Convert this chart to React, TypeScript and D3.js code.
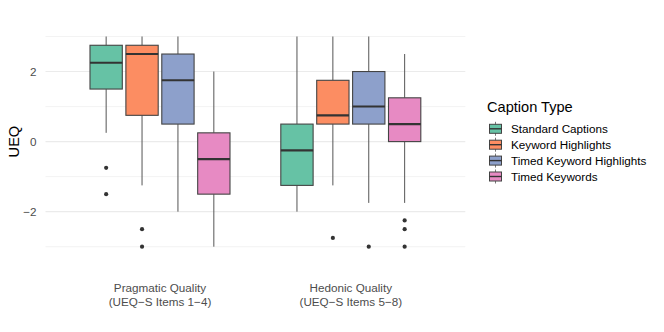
import React from "react";
import * as d3 from "d3";

// categories
const groups = ["Pragmatic", "Hedonic"];
const groupLabels = [
  ["Pragmatic Quality", "(UEQ\u2212S Items 1\u22124)"],
  ["Hedonic Quality", "(UEQ\u2212S Items 5\u22128)"],
];
const captionTypes = [
  "Standard Captions",
  "Keyword Highlights",
  "Timed Keyword Highlights",
  "Timed Keywords",
];
const palette = ["#66C2A5", "#FC8D62", "#8DA0CB", "#E78AC3"];

// five-number summaries [low whisker, q1, median, q3, high whisker], per group
const standardCaptions = [
  [0.25, 1.5, 2.25, 2.75, 3],
  [-2, -1.25, -0.25, 0.5, 3],
];
const keywordHighlights = [
  [-1.25, 0.75, 2.5, 2.75, 3],
  [-1.25, 0.5, 0.75, 1.75, 3],
];
const timedKeywordHighlights = [
  [-2, 0.5, 1.75, 2.5, 3],
  [-1.75, 0.5, 1, 2, 3],
];
const timedKeywords = [
  [-3, -1.5, -0.5, 0.25, 2],
  [-1.75, 0, 0.5, 1.25, 2.5],
];
const summaries = [standardCaptions, keywordHighlights, timedKeywordHighlights, timedKeywords];

// outliers per group
const standardOutliers = [[-0.75, -1.5], []];
const keywordOutliers = [[-2.5, -3], [-2.75]];
const timedHighlightOutliers = [[], [-3]];
const timedKeywordOutliers = [[], [-2.25, -2.5, -3]];
const outliers = [standardOutliers, keywordOutliers, timedHighlightOutliers, timedKeywordOutliers];

const yTicks = [-2, 0, 2];
const yMinor = [-3, -1, 1, 3];

const W = 664;
const H = 332;
const font = "'Liberation Sans', Arial, Helvetica, sans-serif";

export default function App() {
  const panel = { left: 45.5, right: 465.3, top: 26, bottom: 257.2 };

  const x = d3
    .scalePoint<string>()
    .domain(groups)
    .range([panel.left, panel.right])
    .padding(0.6);
  const inner = d3
    .scaleBand<string>()
    .domain(captionTypes)
    .range([-70, 70])
    .paddingInner(0.1);
  const y = d3.scaleLinear().domain([-3.3, 3.3]).range([panel.bottom, panel.top]);

  const bw = inner.bandwidth();

  return (
    <svg
      width={W}
      height={H}
      style={{ position: "absolute", left: 0, top: 0, background: "#fff" }}
      fontFamily={font}
    >
      {/* grid */}
      {yMinor.map((t) => (
        <line
          key={"mi" + t}
          x1={panel.left}
          x2={panel.right}
          y1={y(t)}
          y2={y(t)}
          stroke="#EBEBEB"
          strokeWidth={0.6}
        />
      ))}
      {yTicks.map((t) => (
        <line
          key={"ma" + t}
          x1={panel.left}
          x2={panel.right}
          y1={y(t)}
          y2={y(t)}
          stroke="#EBEBEB"
          strokeWidth={1.1}
        />
      ))}

      {/* boxes */}
      {groups.map((g, gi) =>
        captionTypes.map((c, ci) => {
          const [lo, q1, med, q3, hi] = summaries[ci][gi];
          const x0 = (x(g) as number) + (inner(c) as number);
          const cx = x0 + bw / 2;
          return (
            <g key={g + c}>
              <line x1={cx} x2={cx} y1={y(hi)} y2={y(q3)} stroke="#555" strokeWidth={1} />
              <line x1={cx} x2={cx} y1={y(q1)} y2={y(lo)} stroke="#555" strokeWidth={1} />
              <rect
                x={x0}
                y={y(q3)}
                width={bw}
                height={y(q1) - y(q3)}
                fill={palette[ci]}
                stroke="#444"
                strokeWidth={1.1}
              />
              <line x1={x0} x2={x0 + bw} y1={y(med)} y2={y(med)} stroke="#333" strokeWidth={2.1} />
              {outliers[ci][gi].map((o, oi) => (
                <circle key={oi} cx={cx} cy={y(o)} r={2.1} fill="#333" />
              ))}
            </g>
          );
        })
      )}

      {/* y axis */}
      {yTicks.map((t) => (
        <text
          key={"yt" + t}
          x={36.5}
          y={y(t)}
          dy="0.35em"
          textAnchor="end"
          fontSize={11.7}
          fill="#4D4D4D"
        >
          {t < 0 ? "\u2212" + Math.abs(t) : t}
        </text>
      ))}
      <text
        transform={`translate(18.5,${(panel.top + panel.bottom) / 2}) rotate(-90)`}
        textAnchor="middle"
        fontSize={14.6}
        fill="#000"
      >
        UEQ
      </text>

      {/* x axis */}
      {groups.map((g, gi) => (
        <text key={"xl" + g} textAnchor="middle" fontSize={11.7} fill="#4D4D4D">
          <tspan x={x(g)} y={292.2}>
            {groupLabels[gi][0]}
          </tspan>
          <tspan x={x(g)} y={305.8}>
            {groupLabels[gi][1]}
          </tspan>
        </text>
      ))}

      {/* legend */}
      <text x={487} y={111.5} fontSize={14.6} fill="#000">
        Caption Type
      </text>
      {captionTypes.map((c, ci) => {
        const cy = 128.8 + ci * 15.9;
        const kx = 489.5;
        const kw = 12;
        return (
          <g key={"lg" + c}>
            <line x1={kx + kw / 2} x2={kx + kw / 2} y1={cy - 7} y2={cy + 7} stroke="#555" strokeWidth={0.8} />
            <rect x={kx} y={cy - 4.5} width={kw} height={9} fill={palette[ci]} stroke="#444" strokeWidth={1} />
            <line x1={kx} x2={kx + kw} y1={cy} y2={cy} stroke="#333" strokeWidth={1.4} />
            <text x={511} y={cy} dy="0.35em" fontSize={11.7} fill="#000">
              {c}
            </text>
          </g>
        );
      })}
    </svg>
  );
}
